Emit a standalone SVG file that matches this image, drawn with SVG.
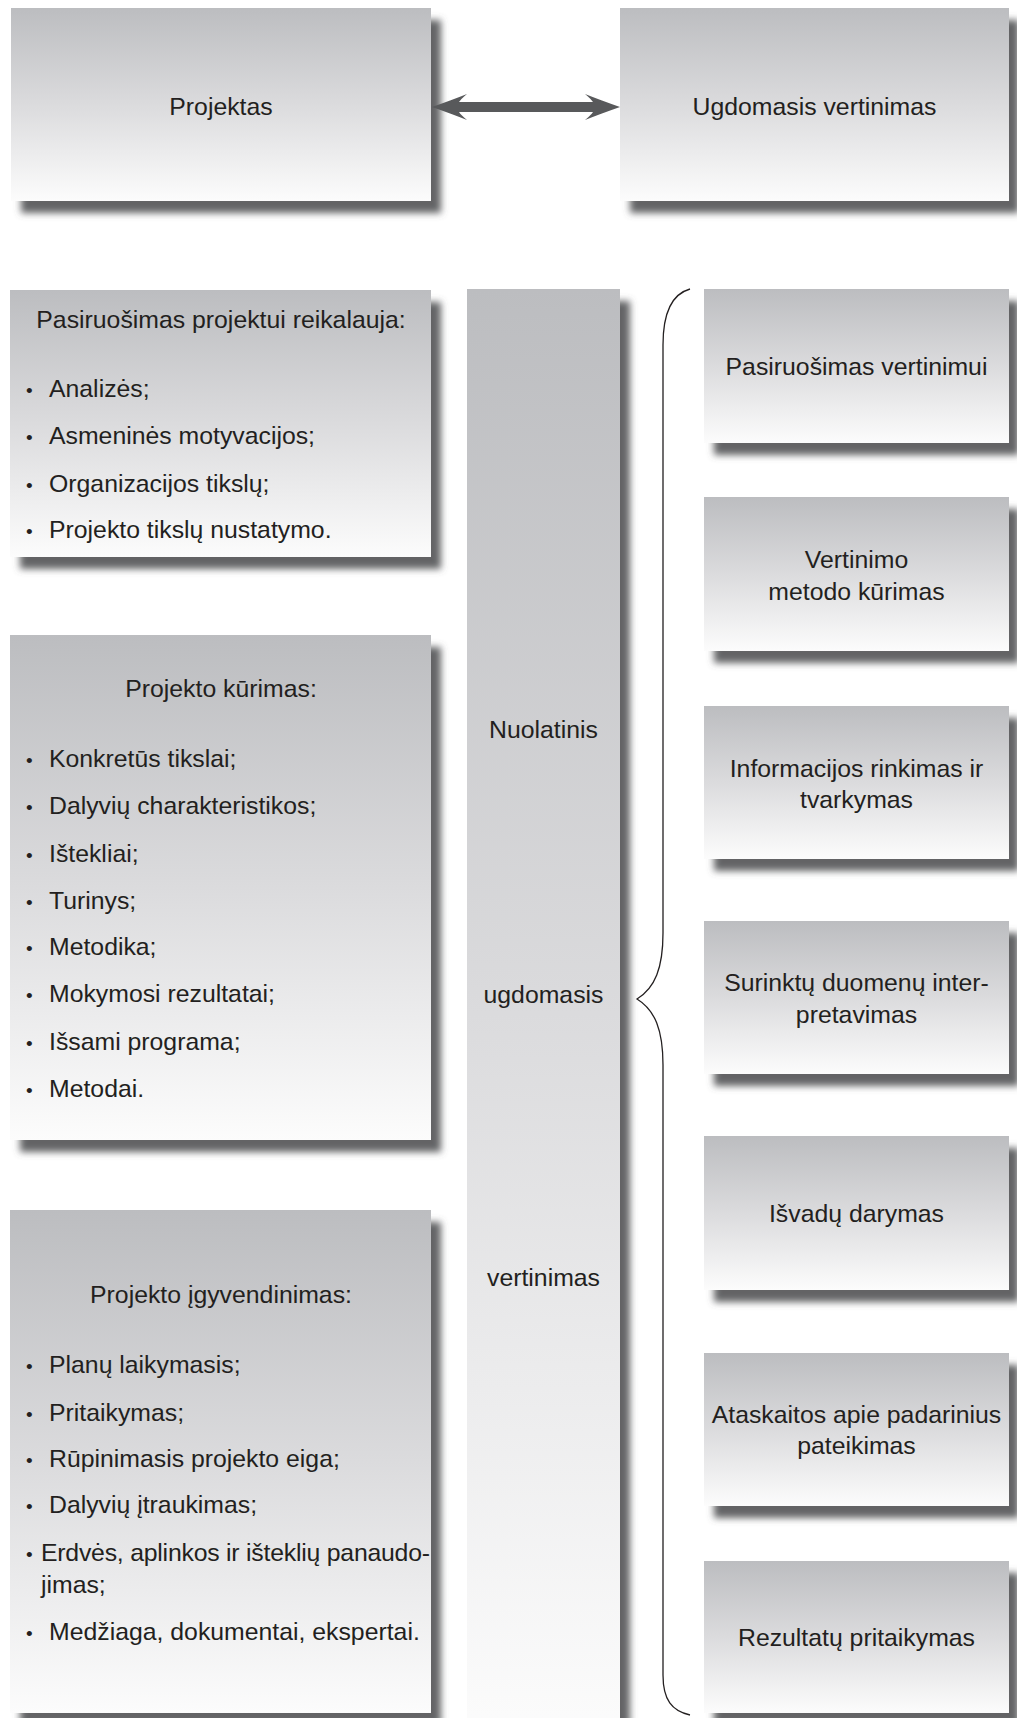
<svg xmlns="http://www.w3.org/2000/svg" width="1017" height="1718" viewBox="0 0 1017 1718">
<defs>
<linearGradient id="g" x1="0" y1="0" x2="0" y2="1">
<stop offset="0" stop-color="#bcbdc0"/>
<stop offset="0.5" stop-color="#dbdbdd"/>
<stop offset="1" stop-color="#fcfcfc"/>
</linearGradient>
<filter id="sh" x="-10%" y="-10%" width="130%" height="130%">
<feGaussianBlur in="SourceAlpha" stdDeviation="3.5" result="b"/>
<feOffset in="b" dx="10" dy="12" result="o"/>
<feFlood flood-color="#565759" flood-opacity="0.92"/>
<feComposite in2="o" operator="in" result="s"/>
<feMerge><feMergeNode in="s"/><feMergeNode in="SourceGraphic"/></feMerge>
</filter>
</defs>
<style>
.box { fill: url(#g); filter: url(#sh); }
.t { font-family: "Liberation Sans", Arial, sans-serif; font-size: 24.8px; fill: #231f20; }
.c { text-anchor: middle; }
.b { font-size: 19px; }
.brace { fill: none; stroke: #231f20; stroke-width: 1.3; }
.arrow { fill: #58595b; }
</style>
<rect width="1017" height="1718" fill="#ffffff"/>

<g id="n-projektas">
<rect class="box" x="11" y="8" width="420" height="193"/>
<text class="t c" x="221" y="115">Projektas</text>
</g>

<g id="n-ugdomasis-vertinimas">
<rect class="box" x="620" y="8" width="389" height="193"/>
<text class="t c" x="814.5" y="115">Ugdomasis vertinimas</text>
</g>

<g id="n-pasiruosimas-projektui">
<rect class="box" x="10" y="290" width="421" height="267"/>
<text class="t c" x="221" y="328">Pasiruošimas projektui reikalauja:</text>
<text class="t" y="397"><tspan class="b" x="26">•</tspan><tspan x="49">Analizės;</tspan></text>
<text class="t" y="444"><tspan class="b" x="26">•</tspan><tspan x="49">Asmeninės motyvacijos;</tspan></text>
<text class="t" y="492"><tspan class="b" x="26">•</tspan><tspan x="49">Organizacijos tikslų;</tspan></text>
<text class="t" y="538"><tspan class="b" x="26">•</tspan><tspan x="49">Projekto tikslų nustatymo.</tspan></text>
</g>

<g id="n-projekto-kurimas">
<rect class="box" x="10" y="635" width="421" height="505"/>
<text class="t c" x="221" y="697">Projekto kūrimas:</text>
<text class="t" y="767"><tspan class="b" x="26">•</tspan><tspan x="49">Konkretūs tikslai;</tspan></text>
<text class="t" y="814"><tspan class="b" x="26">•</tspan><tspan x="49">Dalyvių charakteristikos;</tspan></text>
<text class="t" y="862"><tspan class="b" x="26">•</tspan><tspan x="49">Ištekliai;</tspan></text>
<text class="t" y="909"><tspan class="b" x="26">•</tspan><tspan x="49">Turinys;</tspan></text>
<text class="t" y="955"><tspan class="b" x="26">•</tspan><tspan x="49">Metodika;</tspan></text>
<text class="t" y="1002"><tspan class="b" x="26">•</tspan><tspan x="49">Mokymosi rezultatai;</tspan></text>
<text class="t" y="1050"><tspan class="b" x="26">•</tspan><tspan x="49">Išsami programa;</tspan></text>
<text class="t" y="1097"><tspan class="b" x="26">•</tspan><tspan x="49">Metodai.</tspan></text>
</g>

<g id="n-projekto-igyvendinimas">
<rect class="box" x="10" y="1210" width="421" height="503"/>
<text class="t c" x="221" y="1303">Projekto įgyvendinimas:</text>
<text class="t" y="1373"><tspan class="b" x="26">•</tspan><tspan x="49">Planų laikymasis;</tspan></text>
<text class="t" y="1421"><tspan class="b" x="26">•</tspan><tspan x="49">Pritaikymas;</tspan></text>
<text class="t" y="1467"><tspan class="b" x="26">•</tspan><tspan x="49">Rūpinimasis projekto eiga;</tspan></text>
<text class="t" y="1513"><tspan class="b" x="26">•</tspan><tspan x="49">Dalyvių įtraukimas;</tspan></text>
<text class="t" y="1561"><tspan class="b" x="26">•</tspan><tspan x="41" textLength="389" lengthAdjust="spacing">Erdvės, aplinkos ir išteklių panaudo-</tspan></text>
<text class="t" x="41" y="1593">jimas;</text>
<text class="t" y="1640"><tspan class="b" x="26">•</tspan><tspan x="49">Medžiaga, dokumentai, ekspertai.</tspan></text>
</g>

<g id="n-nuolatinis-vertinimas">
<rect class="box" x="467" y="289" width="153" height="1450"/>
<text class="t c" x="543.5" y="738">Nuolatinis</text>
<text class="t c" x="543.5" y="1003">ugdomasis</text>
<text class="t c" x="543.5" y="1286">vertinimas</text>
</g>

<g id="n-pasiruosimas-vertinimui">
<rect class="box" x="704" y="289" width="305" height="154"/>
<text class="t c" x="856.5" y="375">Pasiruošimas vertinimui</text>
</g>

<g id="n-vertinimo-metodo">
<rect class="box" x="704" y="497" width="305" height="154"/>
<text class="t c" x="856.5" y="568">Vertinimo</text>
<text class="t c" x="856.5" y="600">metodo kūrimas</text>
</g>

<g id="n-informacijos-rinkimas">
<rect class="box" x="704" y="706" width="305" height="153"/>
<text class="t c" x="856.5" y="777">Informacijos rinkimas ir</text>
<text class="t c" x="856.5" y="808">tvarkymas</text>
</g>

<g id="n-duomenu-interpretavimas">
<rect class="box" x="704" y="921" width="305" height="153"/>
<text class="t c" x="856.5" y="991">Surinktų duomenų inter-</text>
<text class="t c" x="856.5" y="1023">pretavimas</text>
</g>

<g id="n-isvadu-darymas">
<rect class="box" x="704" y="1136" width="305" height="154"/>
<text class="t c" x="856.5" y="1222">Išvadų darymas</text>
</g>

<g id="n-ataskaitos">
<rect class="box" x="704" y="1353" width="305" height="153"/>
<text class="t c" x="856.5" y="1423">Ataskaitos apie padarinius</text>
<text class="t c" x="856.5" y="1454">pateikimas</text>
</g>

<g id="n-rezultatu-pritaikymas">
<rect class="box" x="704" y="1561" width="305" height="152"/>
<text class="t c" x="856.5" y="1646">Rezultatų pritaikymas</text>
</g>

<g id="connectors">
<path class="arrow" d="M 432 107 Q 452 100 467 94 Q 461 99 459 102 L 593 102 Q 591 99 585 94 Q 600 100 620 107 Q 600 114 585 120 Q 591 115 593 112 L 459 112 Q 461 115 467 120 Q 452 114 432 107 Z"/>
<path class="brace" d="M 690 289 C 672 294 663 312 663 345 L 663 933 C 663 968 655 988 637 999 C 655 1010 663 1030 663 1065 L 663 1675 C 663 1700 672 1711 690 1715"/>
</g>
</svg>
